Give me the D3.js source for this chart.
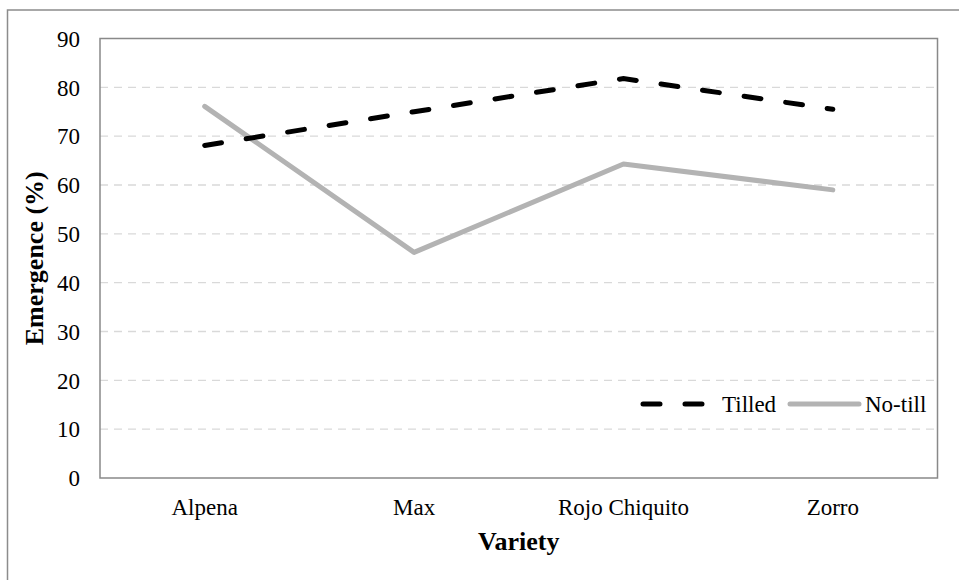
<!DOCTYPE html>
<html>
<head>
<meta charset="utf-8">
<script src="https://cdn.jsdelivr.net/npm/d3@7"></script>
<style>
  body { margin: 0; background: #fff; }
  svg { display: block; font-family: "Liberation Serif", "Times New Roman", serif; }
  .tick text { font-size: 23px; fill: #000; font-family: "Liberation Serif", "Times New Roman", serif; }
</style>
</head>
<body>
<div id="wrapper"></div>
<script>
const varieties = ["Alpena", "Max", "Rojo Chiquito", "Zorro"];
const tilled = [68.1, 75.0, 81.8, 75.5];
const noTill = [76.1, 46.2, 64.3, 59.0];
const yTicks = [0, 10, 20, 30, 40, 50, 60, 70, 80, 90];

function drawChart() {
  const dimensions = {
    width: 959,
    height: 580,
    margin: { top: 38.5, right: 21.5, bottom: 102, left: 100 },
  };
  dimensions.boundedWidth = dimensions.width - dimensions.margin.left - dimensions.margin.right;
  dimensions.boundedHeight = dimensions.height - dimensions.margin.top - dimensions.margin.bottom;

  const wrapper = d3.select("#wrapper")
    .append("svg")
      .attr("width", dimensions.width)
      .attr("height", dimensions.height);

  // outer chart frame (runs off the right / bottom edge)
  wrapper.append("rect")
    .attr("x", 7.5)
    .attr("y", 10)
    .attr("width", dimensions.width + 20)
    .attr("height", dimensions.height + 20)
    .attr("fill", "none")
    .attr("stroke", "#8c8c8c")
    .attr("stroke-width", 1.5);

  const bounds = wrapper.append("g")
    .attr("transform", `translate(${dimensions.margin.left}, ${dimensions.margin.top})`);

  // scales
  const xScale = d3.scaleBand()
    .domain(varieties)
    .range([0, dimensions.boundedWidth]);

  const yScale = d3.scaleLinear()
    .domain([0, 90])
    .range([dimensions.boundedHeight, 0]);

  // gridlines
  bounds.append("g")
    .selectAll("line")
    .data(yTicks.filter(d => d > 0 && d < 90))
    .join("line")
      .attr("x1", 0)
      .attr("x2", dimensions.boundedWidth)
      .attr("y1", d => yScale(d))
      .attr("y2", d => yScale(d))
      .attr("stroke", "#d9d9d9")
      .attr("stroke-width", 1.3)
      .attr("stroke-dasharray", "8,6");

  // plot area frame
  bounds.append("rect")
    .attr("width", dimensions.boundedWidth)
    .attr("height", dimensions.boundedHeight)
    .attr("fill", "none")
    .attr("stroke", "#898989")
    .attr("stroke-width", 1.5);

  // lines
  const lineFor = values => d3.line()
    .x((d, i) => xScale(varieties[i]) + xScale.bandwidth() / 2)
    .y(d => yScale(d))(values);

  bounds.append("path")
    .attr("d", lineFor(noTill))
    .attr("fill", "none")
    .attr("stroke", "#b3b3b3")
    .attr("stroke-width", 5)
    .attr("stroke-linecap", "round")
    .attr("stroke-linejoin", "round");

  bounds.append("path")
    .attr("d", lineFor(tilled))
    .attr("fill", "none")
    .attr("stroke", "#000")
    .attr("stroke-width", 5)
    .attr("stroke-linecap", "round")
    .attr("stroke-dasharray", "17,25");

  // axes
  const yAxis = bounds.append("g")
    .call(d3.axisLeft(yScale).tickValues(yTicks).tickSize(0).tickPadding(20))
    .attr("font-family", null);
  yAxis.select(".domain").remove();
  yAxis.selectAll(".tick text").attr("dy", "0.34em");

  const xAxis = bounds.append("g")
    .attr("transform", `translate(0, ${dimensions.boundedHeight})`)
    .call(d3.axisBottom(xScale).tickSize(0).tickPadding(21))
    .attr("font-family", null);
  xAxis.select(".domain").remove();

  // axis titles
  wrapper.append("text")
    .attr("x", dimensions.margin.left + dimensions.boundedWidth / 2)
    .attr("y", 550)
    .attr("text-anchor", "middle")
    .style("font-size", "26px")
    .style("font-weight", "bold")
    .text("Variety");

  wrapper.append("text")
    .attr("transform", `translate(43, ${dimensions.margin.top + dimensions.boundedHeight / 2}) rotate(-90)`)
    .attr("text-anchor", "middle")
    .style("font-size", "26px")
    .style("font-weight", "bold")
    .text("Emergence (%)");

  // legend
  const legend = wrapper.append("g")
    .attr("transform", "translate(643, 404)");

  legend.append("line")
    .attr("x1", 0).attr("x2", 65)
    .attr("stroke", "#000")
    .attr("stroke-width", 5)
    .attr("stroke-linecap", "round")
    .attr("stroke-dasharray", "17,25");
  legend.append("text")
    .attr("x", 79).attr("y", 8)
    .style("font-size", "23px")
    .text("Tilled");

  legend.append("line")
    .attr("x1", 147).attr("x2", 216)
    .attr("stroke", "#b3b3b3")
    .attr("stroke-width", 5)
    .attr("stroke-linecap", "round");
  legend.append("text")
    .attr("x", 222).attr("y", 8)
    .style("font-size", "23px")
    .text("No-till");
}
drawChart();
</script>
</body>
</html>
